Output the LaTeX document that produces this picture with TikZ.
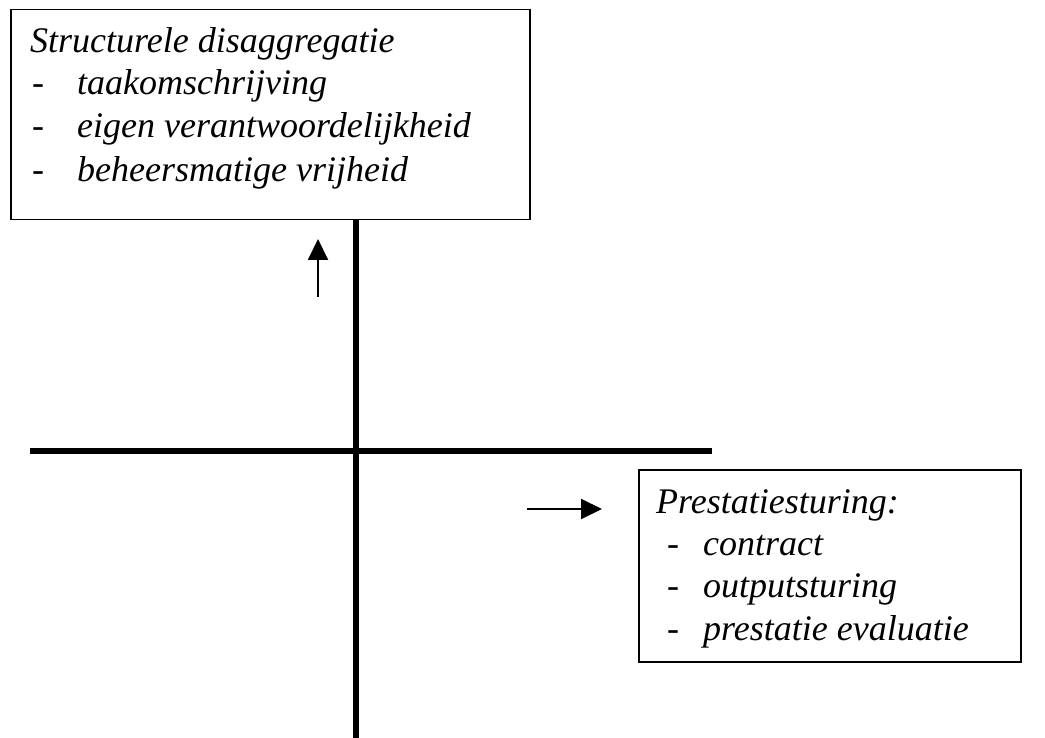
\documentclass[tikz,border=0pt]{standalone}
\usepackage{fontspec}
\setmainfont{Liberation Serif}
\usetikzlibrary{arrows.meta}
\begin{document}
\begin{tikzpicture}[x=1pt,y=-1pt,
 box/.style={draw, line width=1.5pt, inner sep=0pt, anchor=north west},
 axis/.style={line width=6pt},
 txt/.style={anchor=base west, inner sep=0pt, font=\fontsize{36}{43}\selectfont\itshape},
 dashtxt/.style={anchor=base west, inner sep=0pt, font=\fontsize{36}{43}\selectfont},
 arr/.style={line width=2pt, -{Triangle[length=21pt,width=20pt]}}]
\useasboundingbox (0,0) rectangle (1045,738);
% boxes
\node[box, minimum width=519pt, minimum height=210pt] (b1) at (10,9) {};
\node[box, minimum width=382pt, minimum height=192pt] (b2) at (638,469) {};
% box 1 text
\node[txt] (t1) at (30,53) {Structurele disaggregatie};
\node[dashtxt] (d11) at (32,95) {-};
\node[txt] (t11) at (77,95) {taakomschrijving};
\node[dashtxt] (d12) at (32,138) {-};
\node[txt] (t12) at (77,138) {eigen verantwoordelijkheid};
\node[dashtxt] (d13) at (32,182) {-};
\node[txt] (t13) at (77,182) {beheersmatige vrijheid};
% box 2 text
\node[txt] (t2) at (656,513) {Prestatiesturing:};
\node[dashtxt] (d21) at (667,555) {-};
\node[txt] (t21) at (703,555) {contract};
\node[dashtxt] (d22) at (667,597) {-};
\node[txt] (t22) at (703,597) {outputsturing};
\node[dashtxt] (d23) at (667,640) {-};
\node[txt] (t23) at (703,640) {prestatie evaluatie};
% axes
\coordinate (vtop) at (356,219);
\coordinate (vbot) at (356,738);
\coordinate (hl) at (30,451);
\coordinate (hr) at (712,451);
\draw[axis] (vtop) -- (vbot);
\draw[axis] (hl) -- (hr);
% arrows
\coordinate (ua1) at (318,297);
\coordinate (ua2) at (318,239);
\coordinate (ra1) at (527,509);
\coordinate (ra2) at (602,509);
\draw[arr] (ua1) -- (ua2);
\draw[arr] (ra1) -- (ra2);
\end{tikzpicture}
\end{document}
